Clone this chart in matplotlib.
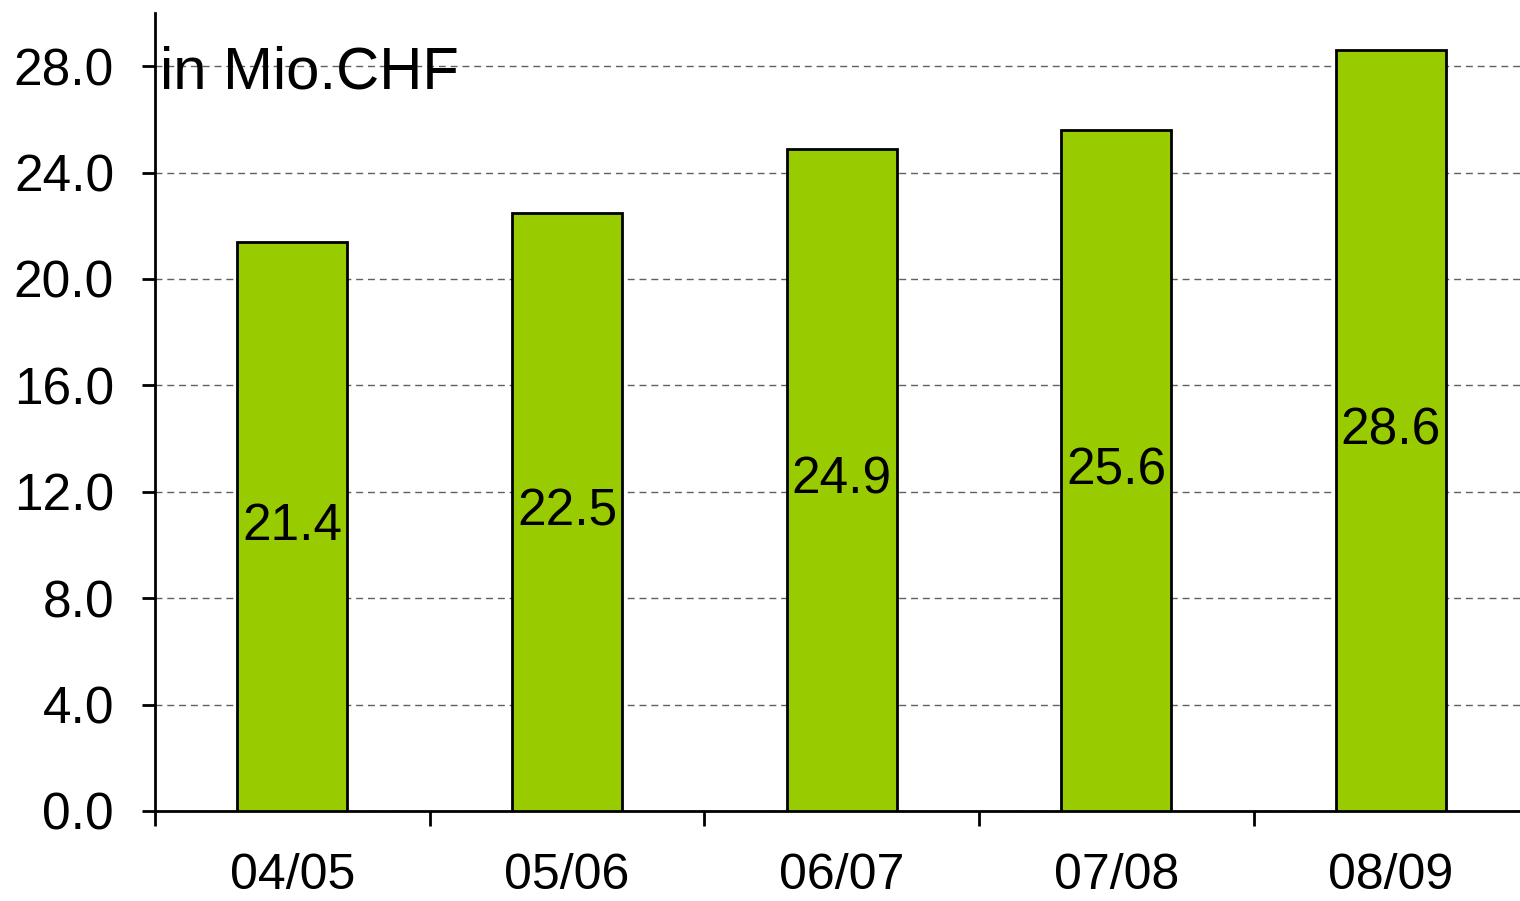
import matplotlib.pyplot as plt
import numpy as np

plt.rcParams['font.family'] = ['Liberation Sans', 'DejaVu Sans']

years = ['04/05', '05/06', '06/07', '07/08', '08/09']
values = [21.4, 22.5, 24.9, 25.6, 28.6]
yticks = [0, 4, 8, 12, 16, 20, 24, 28]

fig = plt.figure(figsize=(15.2, 9.01), dpi=100)
ax = fig.add_axes([155 / 1520, 90 / 901, 1 - 155 / 1520, (811 - 13) / 901])

x = np.arange(len(years))
bars = ax.bar(x, values, width=0.4, color='#99CC00', edgecolor='black', linewidth=2, zorder=3)

for xi, v in zip(x, values):
    ax.text(xi, v / 2, f'{v:.1f}', ha='center', va='center', fontsize=37, zorder=4)

ax.set_xlim(-0.49, 4.47)
ax.set_ylim(0, 30)
ax.set_yticks(yticks)
ax.set_yticklabels([f'{t:.1f}' for t in yticks])
ax.set_xticks(x)
ax.set_xticklabels(years)
ax.set_xticks(np.arange(-0.5, 4, 1), minor=True)

ax.tick_params(axis='y', labelsize=37, length=9.5, width=2, pad=20)
ax.tick_params(axis='x', which='major', labelsize=36, length=0, pad=30)
ax.tick_params(axis='x', which='minor', length=11, width=2)

ax.grid(axis='y', linestyle=(0, (5, 3.5)), color='#606060', linewidth=1, zorder=0)
ax.set_axisbelow(True)

for s in ['top', 'right']:
    ax.spines[s].set_visible(False)
for s in ['left', 'bottom']:
    ax.spines[s].set_linewidth(2)

ax.text(0.004, 0.906, 'in Mio.CHF', transform=ax.transAxes, fontsize=43,
        ha='left', va='baseline', zorder=5)

fig.savefig('out.png', dpi=100)
